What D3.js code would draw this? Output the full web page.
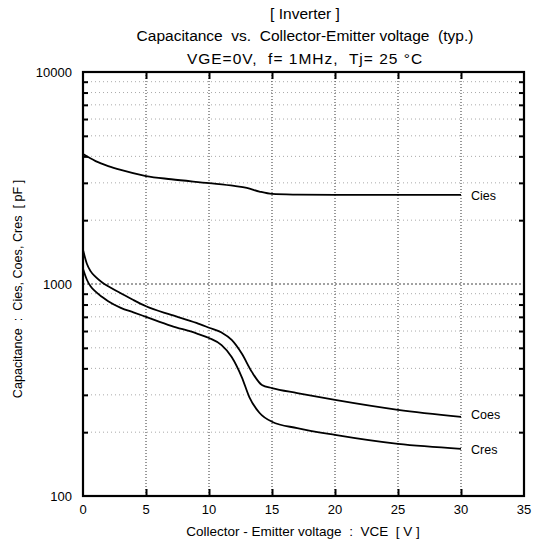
<!DOCTYPE html>
<html><head><meta charset="utf-8">
<script src="https://cdn.jsdelivr.net/npm/d3@7"></script>
<style>body{margin:0;background:#fff}svg{display:block}text{font-family:"Liberation Sans",Arial,sans-serif;fill:#000}</style>
</head><body><svg id="c" width="534" height="543"></svg>
<script>
const titleLines = ["[ Inverter ]", "Capacitance  vs.  Collector-Emitter voltage  (typ.)", "VGE=0V,  f= 1MHz,  Tj= 25 \u00B0C"];
const xLabel = "Collector - Emitter voltage  :  VCE  [ V ]";
const yLabel = "Capacitance  :  Cies, Coes, Cres  [ pF ]";
const xTicks = [0, 5, 10, 15, 20, 25, 30, 35];
const yTicks = [100, 1000, 10000];
const seriesNames = ["Cies", "Coes", "Cres"];
const ciesV = [0, 1, 2, 3, 5, 7, 10, 12, 13, 14, 15, 17, 20, 25, 30];
const ciesC = [4100, 3800, 3600, 3450, 3230, 3120, 2990, 2900, 2840, 2730, 2660, 2640, 2630, 2630, 2630];
const coesV = [0, 0.3, 0.6, 1, 1.5, 2, 3, 4, 5, 7, 9, 10, 11, 11.8, 12.6, 13.4, 14.2, 15, 17, 20, 25, 30];
const coesC = [1450, 1250, 1150, 1080, 1020, 975, 905, 840, 785, 715, 655, 622, 590, 545, 470, 385, 334, 323, 306, 284, 255, 236];
const cresV = [0, 0.3, 0.6, 1, 1.5, 2, 3, 4, 5, 7, 9, 10, 11, 11.8, 12.6, 13.2, 14, 15, 17, 20, 25, 30];
const cresC = [1180, 1050, 975, 920, 870, 830, 772, 735, 700, 635, 585, 556, 515, 453, 364, 293, 247, 224, 209, 194, 176, 167];

const svg = d3.select("#c");
const L = 83, R = 524, T = 72, B = 496;
const x = d3.scaleLinear().domain([0, 35]).range([L, R]);
const y = d3.scaleLog().domain([100, 10000]).range([B, T]);

// titles
const ty = [19, 41, 64];
const tls = [0, 0, 1];
titleLines.forEach((t, i) => svg.append("text").attr("x", 305).attr("y", ty[i]).attr("text-anchor", "middle")
  .attr("font-size", 15.5).attr("letter-spacing", tls[i]).style("white-space","pre").text(t));

// minor values
const minors = [];
[100, 1000].forEach(d => { for (let k = 2; k <= 9; k++) minors.push(d * k); });

// horizontal grid
const g = svg.append("g");
g.selectAll("line.hm").data(minors).join("line")
  .attr("x1", L).attr("x2", R).attr("y1", d => y(d)).attr("y2", d => y(d))
  .attr("stroke", "#aaa").attr("stroke-width", 1).attr("stroke-dasharray", "1,3");
g.append("line").attr("x1", L).attr("x2", R).attr("y1", y(1000)).attr("y2", y(1000))
  .attr("stroke", "#444").attr("stroke-width", 1).attr("stroke-dasharray", "2,2");
// vertical grid
g.selectAll("line.v").data(xTicks.slice(1, -1)).join("line")
  .attr("x1", d => x(d)).attr("x2", d => x(d)).attr("y1", T).attr("y2", B)
  .attr("stroke", "#333").attr("stroke-width", 1).attr("stroke-dasharray", "1,2");

// axes with inward ticks
const axL = d3.axisLeft(y).tickValues(minors).tickSize(-5).tickFormat("");
const axR = d3.axisRight(y).tickValues(minors).tickSize(-5).tickFormat("");
const axB = d3.axisBottom(x).tickValues(xTicks.slice(1, -1)).tickSize(-7).tickFormat("");
const axT = d3.axisTop(x).tickValues(xTicks.slice(1, -1)).tickSize(-7).tickFormat("");
[[axL, `translate(${L},0)`], [axR, `translate(${R},0)`], [axB, `translate(0,${B})`], [axT, `translate(0,${T})`]].forEach(([a, tr]) => {
  const s = svg.append("g").attr("transform", tr).call(a);
  s.select(".domain").remove();
  s.selectAll(".tick line").attr("stroke", "#000").attr("stroke-width", 2);
});
svg.append("rect").attr("x", L).attr("y", T).attr("width", R - L).attr("height", B - T)
  .attr("fill", "none").attr("stroke", "#000").attr("stroke-width", 2.2);

// tick labels
svg.selectAll("text.yt").data(yTicks).join("text").attr("class", "yt")
  .attr("x", 72).attr("y", d => y(d) + 5).attr("text-anchor", "end").attr("font-size", 13).text(d => d);
svg.selectAll("text.xt").data(xTicks).join("text").attr("class", "xt")
  .attr("x", d => x(d)).attr("y", 514).attr("text-anchor", "middle").attr("font-size", 13).text(d => d);

// axis labels
svg.append("text").attr("x", 303).attr("y", 536).attr("text-anchor", "middle").attr("font-size", 13.5).style("white-space","pre").text(xLabel);
svg.append("text").attr("transform", "translate(22,289) rotate(-90)").attr("text-anchor", "middle").attr("font-size", 12.6).style("white-space","pre").text(yLabel);

// curves
const line = d3.line().x(d => x(d[0])).y(d => y(d[1])).curve(d3.curveMonotoneX);
const series = [[ciesV, ciesC], [coesV, coesC], [cresV, cresC]];
series.forEach(([vs, cs]) => {
  svg.append("path").datum(vs.map((v, i) => [v, cs[i]])).attr("d", line)
    .attr("fill", "none").attr("stroke", "#000").attr("stroke-width", 1.8);
});
// labels
const labY = [2630, 236, 167];
const labDy = [5, 2, 5];
seriesNames.forEach((n, i) => svg.append("text").attr("x", x(30) + 10).attr("y", y(labY[i]) + labDy[i]).attr("font-size", 12.5).text(n));
</script></body></html>
